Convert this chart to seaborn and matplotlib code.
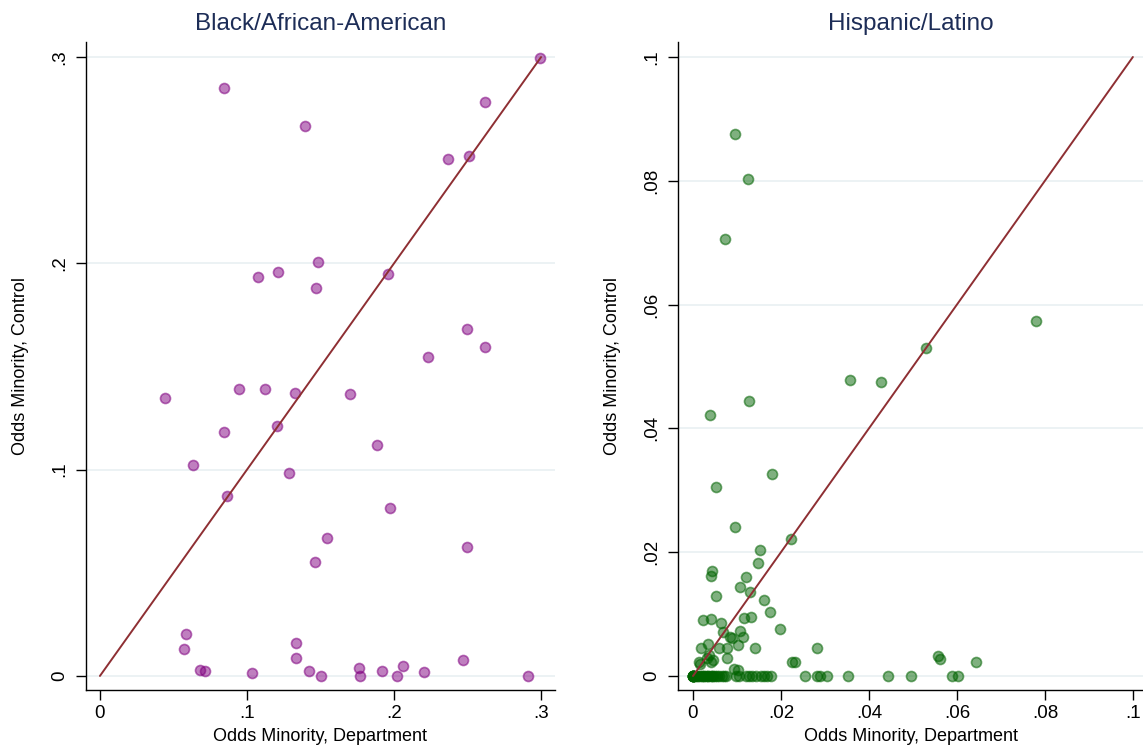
import numpy as np
import pandas as pd
import matplotlib
matplotlib.use("Agg")
import matplotlib.pyplot as plt
import seaborn as sns

sns.set_theme(style="white")
plt.rcParams['font.family'] = ['Liberation Sans', 'DejaVu Sans']

# ---------------- data ----------------
black_dept = [0.0845, 0.1397, 0.2618, 0.2993, 0.2365, 0.2509, 0.1072, 0.1209, 0.1481, 0.1472,
              0.1956, 0.2497, 0.2622, 0.2234, 0.0445, 0.0945, 0.1122, 0.1325, 0.1704, 0.1207,
              0.0843, 0.1884, 0.0632, 0.1284, 0.0866, 0.1970, 0.1545, 0.1466, 0.2495, 0.0582,
              0.0575, 0.0682, 0.0716, 0.1034, 0.1332, 0.1336, 0.1420, 0.1504, 0.1763, 0.1770,
              0.1915, 0.2018, 0.2063, 0.2204, 0.2470, 0.2909]
black_ctrl = [0.2850, 0.2666, 0.2782, 0.2996, 0.2506, 0.2521, 0.1936, 0.1957, 0.2007, 0.1881,
              0.1949, 0.1681, 0.1596, 0.1546, 0.1346, 0.1393, 0.1391, 0.1370, 0.1368, 0.1213,
              0.1184, 0.1121, 0.1023, 0.0983, 0.0874, 0.0814, 0.0669, 0.0553, 0.0624, 0.0204,
              0.0131, 0.0027, 0.0022, 0.0013, 0.0158, 0.0086, 0.0022, 0.0000, 0.0040, 0.0000,
              0.0022, 0.0000, 0.0050, 0.0019, 0.0076, 0.0000]

hisp_dept_upper = [0.0095, 0.0125, 0.0072, 0.0780, 0.0530, 0.0358, 0.0427, 0.0128, 0.0039, 0.0180,
                   0.0052, 0.0095, 0.0223, 0.0152, 0.0148, 0.0044, 0.0041, 0.0121, 0.0108, 0.0130,
                   0.0053, 0.0161, 0.0174, 0.0023, 0.0042, 0.0117, 0.0133, 0.0064, 0.0197, 0.0069,
                   0.0108, 0.0084, 0.0089, 0.0114, 0.0077, 0.0060, 0.0034, 0.0018, 0.0102, 0.0141,
                   0.0283, 0.0037, 0.0045, 0.0031, 0.0077, 0.0017, 0.0041, 0.0226, 0.0233, 0.0094,
                   0.0103, 0.0557, 0.0561, 0.0643, 0.0014]
hisp_ctrl_upper = [0.0875, 0.0803, 0.0706, 0.0574, 0.0530, 0.0478, 0.0475, 0.0444, 0.0421, 0.0326,
                   0.0305, 0.0241, 0.0222, 0.0203, 0.0182, 0.0170, 0.0162, 0.0160, 0.0144, 0.0135,
                   0.0129, 0.0122, 0.0103, 0.0090, 0.0092, 0.0093, 0.0096, 0.0085, 0.0076, 0.0071,
                   0.0072, 0.0063, 0.0062, 0.0063, 0.0046, 0.0046, 0.0052, 0.0045, 0.0050, 0.0045,
                   0.0046, 0.0034, 0.0026, 0.0029, 0.0029, 0.0020, 0.0023, 0.0022, 0.0022, 0.0011,
                   0.0009, 0.0033, 0.0027, 0.0023, 0.0023]
hisp_dept_zero = [0.0, 0.0, 0.0, 0.0, 0.0, 0.0, 0.0, 0.0, 0.0005, 0.0010, 0.0015, 0.0020, 0.0025,
                  0.0030, 0.0035, 0.0040, 0.0045, 0.0050, 0.0055, 0.0060, 0.0065, 0.0070, 0.0075,
                  0.0002, 0.0012, 0.0022, 0.0033, 0.0043, 0.0097, 0.0105, 0.0120, 0.0127, 0.0134,
                  0.0143, 0.0154, 0.0161, 0.0169, 0.0178, 0.0255, 0.0282, 0.0289, 0.0305, 0.0353,
                  0.0444, 0.0495, 0.0588, 0.0603]

black_ticks = [0, 0.1, 0.2, 0.3]
black_ticklabels = ["0", ".1", ".2", ".3"]
hisp_ticks = [0, 0.02, 0.04, 0.06, 0.08, 0.1]
hisp_ticklabels = ["0", ".02", ".04", ".06", ".08", ".1"]
black_diag = [0, 0.3]
hisp_diag = [0, 0.1]

titles = ["Black/African-American", "Hispanic/Latino"]
xlabel = "Odds Minority, Department"
ylabel = "Odds Minority, Control"

df_black = pd.DataFrame({"dept": black_dept, "ctrl": black_ctrl})
df_hisp = pd.DataFrame({"dept": hisp_dept_upper + hisp_dept_zero,
                        "ctrl": hisp_ctrl_upper + [0.0] * len(hisp_dept_zero)})

# ---------------- figure ----------------
fig = plt.figure(figsize=(11.43, 7.49), dpi=100)
ax1 = fig.add_axes([0.0752, 0.0788, 0.4104, 0.8651])
ax2 = fig.add_axes([0.5932, 0.0788, 0.4068, 0.8651])

line_color = "#8E2F33"
title_color = "#1d2d57"
grid_color = "#EAF1F3"

specs = [
    (ax1, df_black, (0.5, 0.0, 0.5), black_diag, black_ticks, black_ticklabels,
     (-0.0095, 0.3095), (-0.0068, 0.3073)),
    (ax2, df_hisp, (0.0, 0.39, 0.0), hisp_diag, hisp_ticks, hisp_ticklabels,
     (-0.0034, 0.1023), (-0.00226, 0.10242)),
]

for i, (ax, df, col, diag, ticks, ticklabels, xl, yl) in enumerate(specs):
    for t in ticks:
        ax.axhline(t, color=grid_color, lw=1.3, zorder=0)
    sns.lineplot(x=diag, y=diag, ax=ax, color=line_color, lw=1.4, zorder=3)
    sns.scatterplot(data=df, x="dept", y="ctrl", ax=ax, s=52,
                    facecolor=(*col, 0.5), edgecolor=(*col, 0.55), linewidth=1.2,
                    zorder=2)
    ax.set_xlim(*xl)
    ax.set_ylim(*yl)
    ax.set_xticks(ticks)
    ax.set_xticklabels(ticklabels)
    ax.set_yticks(ticks)
    ax.set_yticklabels(ticklabels, rotation=90, va="center")
    ax.tick_params(axis="both", direction="out", length=7, width=1, color="black",
                   labelsize=13.5, labelcolor="black", left=True, bottom=True)
    ax.tick_params(axis="x", pad=4)
    ax.tick_params(axis="y", pad=6)
    for side in ["top", "right"]:
        ax.spines[side].set_visible(False)
    for side in ["left", "bottom"]:
        ax.spines[side].set_color("black")
        ax.spines[side].set_linewidth(1.0)
    ax.set_xlabel(xlabel, fontsize=13, color="black", labelpad=4)
    ax.set_ylabel(ylabel, fontsize=13, color="black", labelpad=16)
    ax.set_title(titles[i], fontsize=17.5, color=title_color, pad=9)
    ax.grid(False)

fig.savefig("out.png", dpi=100, facecolor="white")
